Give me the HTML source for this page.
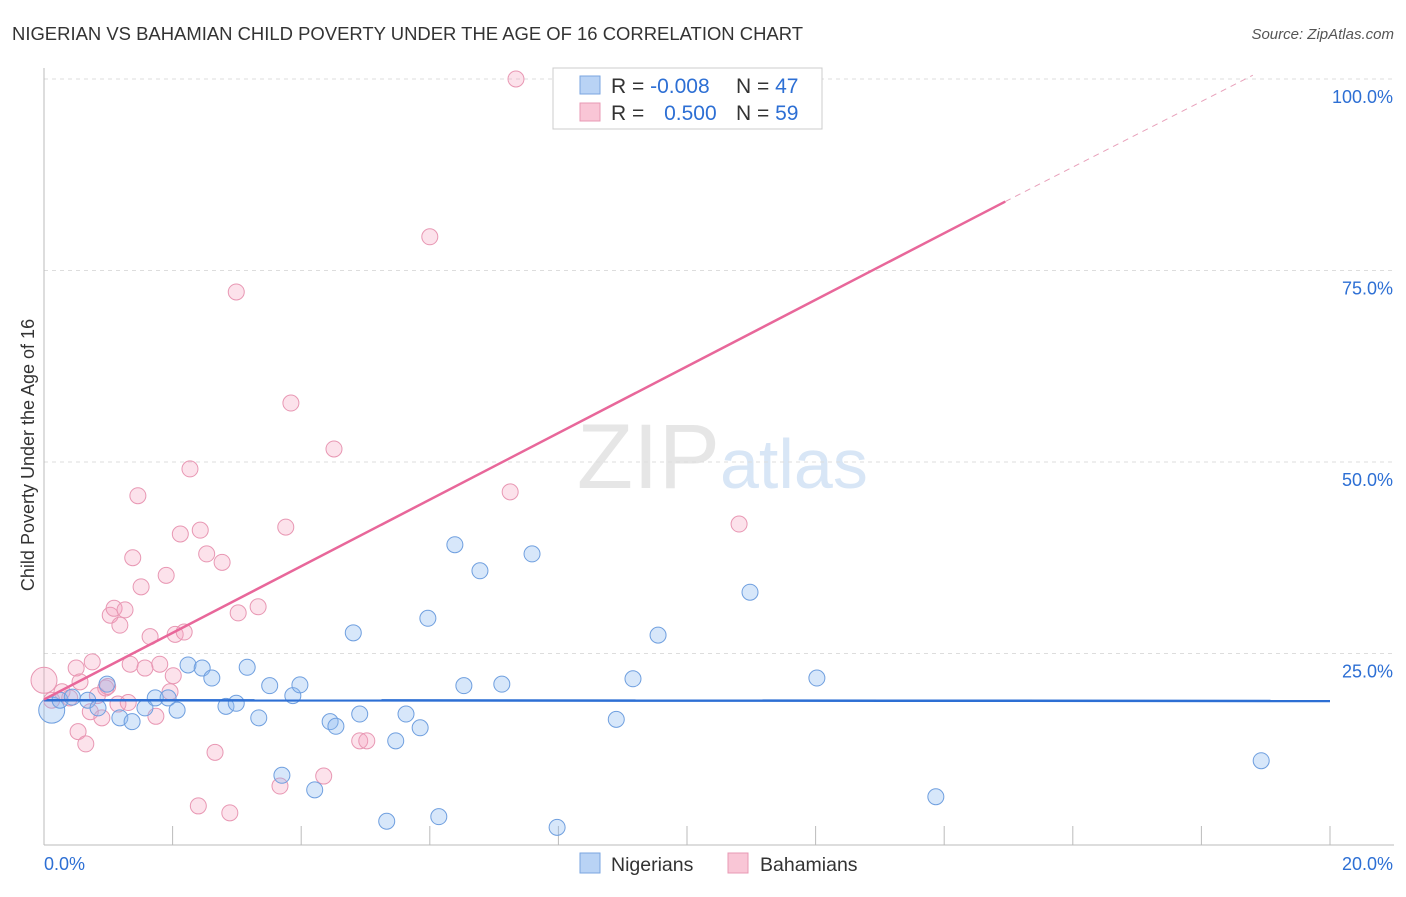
<!DOCTYPE html>
<html><head><meta charset="utf-8">
<style>
body{margin:0;background:#fff;font-family:"Liberation Sans",sans-serif;}
svg text{font-family:"Liberation Sans",sans-serif;}
</style></head>
<body>
<svg id="chart" width="1406" height="892" xmlns="http://www.w3.org/2000/svg">
<text x="12" y="40" font-size="18" fill="#333" textLength="791" lengthAdjust="spacingAndGlyphs">NIGERIAN VS BAHAMIAN CHILD POVERTY UNDER THE AGE OF 16 CORRELATION CHART</text>
<text x="1394" y="39" font-size="15" fill="#555" font-style="italic" text-anchor="end">Source: ZipAtlas.com</text>
<text x="720" y="488" font-size="92" fill="#e6e6e6" text-anchor="end" font-family="Liberation Serif">ZIP</text>
<text x="720" y="488" font-size="70" fill="#d8e6f6">atlas</text>
<g id="grid"></g>
<g id="axes"></g>
<g id="points"></g>
<g id="lines"></g>
<text transform="translate(34,455) rotate(-90)" font-size="18" fill="#333" text-anchor="middle">Child Poverty Under the Age of 16</text>
<g>
<rect x="553" y="68" width="269" height="61" fill="#fff" stroke="#ccc"/>
<rect x="580" y="76" width="20" height="18" fill="#b9d3f5" stroke="#7aa6e0"/>
<rect x="580" y="103" width="20" height="18" fill="#f9c6d6" stroke="#e899b4"/>
<text x="611" y="93" font-size="21" fill="#333">R = <tspan fill="#2d6fd4">-0.008</tspan></text>
<text x="736" y="93" font-size="21" fill="#333">N = <tspan fill="#2d6fd4">47</tspan></text>
<text x="611" y="120" font-size="21" fill="#333">R = <tspan fill="#2d6fd4" dx="14">0.500</tspan></text>
<text x="736" y="120" font-size="21" fill="#333">N = <tspan fill="#2d6fd4">59</tspan></text>
</g>
<g>
<rect x="580" y="853" width="20" height="20" fill="#b9d3f5" stroke="#7aa6e0"/>
<text x="611" y="871" font-size="19.5" fill="#333">Nigerians</text>
<rect x="728" y="853" width="20" height="20" fill="#f9c6d6" stroke="#e899b4"/>
<text x="760" y="871" font-size="19.5" fill="#333">Bahamians</text>
</g>
</svg>
<script>
const xTicks=[0,2,4,6,8,10,12,14,16,18,20];
const yTicks=[25,50,75,100];
const yTickLabels=["25.0%","50.0%","75.0%","100.0%"];
const nigX=[0.12,0.25,0.44,0.68,0.84,0.98,1.18,1.37,1.57,1.73,1.93,2.07,2.24,2.46,2.61,2.83,2.99,3.16,3.34,3.51,3.70,3.87,3.98,4.21,4.45,4.54,4.81,4.91,5.33,5.47,5.63,5.85,5.97,6.14,6.39,6.53,6.78,7.12,7.59,7.98,8.90,9.16,9.55,10.98,12.02,13.87,18.93];
const nigY=[17.6,18.9,19.3,18.9,17.9,21.0,16.6,16.1,17.9,19.2,19.2,17.6,23.5,23.1,21.8,18.1,18.5,23.2,16.6,20.8,9.1,19.5,20.9,7.2,16.1,15.5,27.7,17.1,3.1,13.6,17.1,15.3,29.6,3.7,39.2,20.8,35.8,21.0,38.0,2.3,16.4,21.7,27.4,33.0,21.8,6.3,11.0];
const bahX=[0,0.12,0.28,0.40,0.50,0.56,0.53,0.65,0.72,0.75,0.83,0.90,0.96,1.03,1.09,1.15,1.18,1.26,1.34,1.38,1.46,1.51,1.57,1.65,1.74,1.80,1.90,1.96,2.01,2.04,2.12,2.18,2.27,2.40,2.43,2.53,2.66,2.77,2.89,2.99,3.02,3.33,3.67,3.76,3.84,4.35,4.51,4.91,5.02,6.00,7.25,7.34,10.81,0.99,1.31];
const bahY=[21.5,18.9,20.0,19.2,23.1,21.3,14.8,13.2,17.4,23.9,19.5,16.6,20.5,30.0,30.9,18.4,28.7,30.7,23.6,37.5,45.6,33.7,23.1,27.2,16.8,23.6,35.2,20.0,22.1,27.5,40.6,27.8,49.1,5.1,41.1,38.0,12.1,36.9,4.2,72.2,30.3,31.1,7.7,41.5,57.7,9.0,51.7,13.6,13.6,79.4,46.1,100,41.9,20.7,18.6];
const nigLine=[0,18.9,20,18.8];
const bahLine=[0,19.0,14.95,84.0,18.8,100.5];
const X=v=>44+v*64.3, Y=v=>845-v*7.66;
const NS="http://www.w3.org/2000/svg";
function mk(p,t,a){const e=document.createElementNS(NS,t);for(const k in a)e.setAttribute(k,a[k]);document.getElementById(p).appendChild(e);return e;}
yTicks.forEach((t,i)=>{
 const g=mk('grid','line',{x1:44,x2:1394,y1:Y(t),y2:Y(t),stroke:'#ddd','stroke-dasharray':'4,4'});
 
 
 const l=mk('axes','text',{x:1393,y:Y(t)+24,'font-size':18,fill:'#2d6fd4','text-anchor':'end'});
 l.textContent=yTickLabels[i];
 
 
});
const ax=mk('axes','line',{x1:44,x2:1394,y1:845,y2:845,stroke:'#bbb'});


const ay=mk('axes','line',{x1:44,x2:44,y1:68,y2:845,stroke:'#bbb'});


xTicks.forEach(t=>{if(t===0)return;
 const e=mk('axes','line',{x1:X(t),x2:X(t),y1:826,y2:845,stroke:'#bbb'});
 
 
});
const x0=mk('axes','text',{x:44,y:870,'font-size':18,fill:'#2d6fd4'});x0.textContent='0.0%';


const x1=mk('axes','text',{x:1393,y:870,'font-size':18,fill:'#2d6fd4','text-anchor':'end'});x1.textContent='20.0%';


bahX.forEach((v,i)=>{
 const c=mk('points','circle',{cx:X(v),cy:Y(bahY[i]),r:i===0?13:8,fill:'rgba(244,160,188,0.3)',stroke:'#e897b3','stroke-width':1});
 
 
});
nigX.forEach((v,i)=>{
 const c=mk('points','circle',{cx:X(v),cy:Y(nigY[i]),r:i===0?13:8,fill:'rgba(140,185,240,0.35)',stroke:'#6f9fdf','stroke-width':1});
 
 
});
const nl=mk('lines','line',{x1:X(nigLine[0]),y1:Y(nigLine[1]),x2:X(nigLine[2]),y2:Y(nigLine[3]),stroke:'#2d6fd4','stroke-width':2.5});


const bl=mk('lines','line',{x1:X(bahLine[0]),y1:Y(bahLine[1]),x2:X(bahLine[2]),y2:Y(bahLine[3]),stroke:'#e8679a','stroke-width':2.5});


const bd=mk('lines','line',{x1:X(bahLine[2]),y1:Y(bahLine[3]),x2:X(bahLine[4]),y2:Y(bahLine[5]),stroke:'#e8a0ba','stroke-width':1,'stroke-dasharray':'6,5'});


</script>
</body></html>
